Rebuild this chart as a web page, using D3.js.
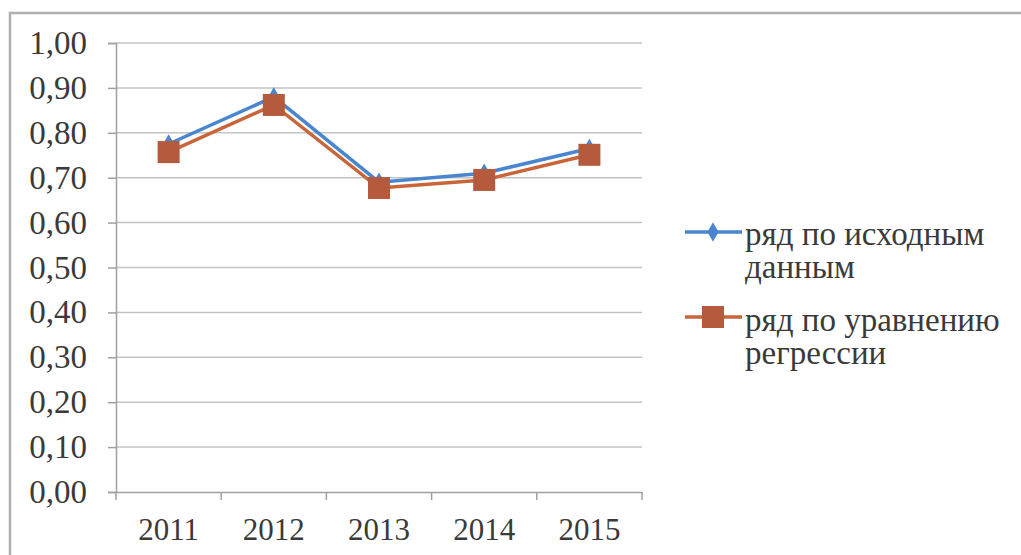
<!DOCTYPE html>
<html><head><meta charset="utf-8">
<script src="https://cdn.jsdelivr.net/npm/d3@7"></script>
<style>body{margin:0;background:#fff} text{font-family:"Liberation Serif","Times New Roman",serif;}</style>
</head><body>
<script>
const categories = ["2011","2012","2013","2014","2015"];
const seriesNames = ["ряд по исходным данным","ряд по уравнению регрессии"];
const original = [0.775, 0.880, 0.690, 0.710, 0.765];
const regression = [0.757, 0.862, 0.677, 0.695, 0.751];
const yTicks = [0,0.1,0.2,0.3,0.4,0.5,0.6,0.7,0.8,0.9,1.0];

(function(){
const W=1021,H=555;
const svg=d3.select("body").append("svg").attr("width",W).attr("height",H);
// frame
svg.append("rect").attr("x",10).attr("y",13).attr("width",1030).attr("height",600)
  .attr("fill","none").attr("stroke","#b0b0b0").attr("stroke-width",2.5);

const pL=116,pR=642,pT=43,pB=492;
const x=d3.scaleBand().domain(categories).range([pL,pR]);
const y=d3.scaleLinear().domain([0,1]).range([pB,pT]);
const font="Liberation Serif";
const txt="#3a3a3a";

// gridlines
svg.append("g").selectAll("line").data(yTicks.slice(1)).join("line")
  .attr("x1",pL).attr("x2",pR).attr("y1",d=>y(d)).attr("y2",d=>y(d))
  .attr("stroke","#c4c4c4").attr("stroke-width",1.5);

// y axis
const ya=svg.append("g").attr("transform",`translate(${pL},0)`)
  .call(d3.axisLeft(y).tickValues(yTicks).tickSize(8).tickPadding(21)
    .tickFormat(d=>d3.format(".2f")(d).replace(".",",")));
ya.attr("font-family",null);
ya.select(".domain").attr("stroke","#a0a0a0").attr("stroke-width",1.5);
ya.selectAll(".tick line").attr("stroke","#a0a0a0").attr("stroke-width",1.5);
ya.selectAll("text").style("font-family",font).attr("font-size",33).attr("fill",txt);

// x axis
const xa=svg.append("g").attr("transform",`translate(0,${pB})`)
  .call(d3.axisBottom(x).tickSize(0).tickPadding(26));
xa.attr("font-family",null);
xa.select(".domain").attr("stroke","#a0a0a0").attr("stroke-width",1.5);
xa.selectAll("text").style("font-family",font).attr("font-size",31).attr("fill",txt).attr("dy","0.71em");
const bounds=categories.map(c=>x(c)).concat([pR]);
svg.append("g").selectAll("line").data(bounds).join("line")
  .attr("x1",d=>d).attr("x2",d=>d).attr("y1",pB).attr("y2",pB+8)
  .attr("stroke","#a0a0a0").attr("stroke-width",1.5);

const cx=c=>x(c)+x.bandwidth()/2;
const line=d3.line().x((d,i)=>cx(categories[i])).y(d=>y(d));
const blue="#4a86cf", red="#b55a3c", redLine="#c8663a";

svg.append("path").datum(original).attr("d",line).attr("fill","none")
  .attr("stroke",blue).attr("stroke-width",3.5);
svg.append("g").selectAll("path").data(original).join("path")
  .attr("d",d3.symbol(d3.symbolDiamond,110)())
  .attr("transform",(d,i)=>`translate(${cx(categories[i])},${y(d)})`)
  .attr("fill",blue);

svg.append("path").datum(regression).attr("d",line).attr("fill","none")
  .attr("stroke",redLine).attr("stroke-width",3.5);
svg.append("g").selectAll("rect").data(regression).join("rect")
  .attr("x",(d,i)=>cx(categories[i])-11).attr("y",d=>y(d)-11)
  .attr("width",22).attr("height",22).attr("fill",red);

// legend
const lg=svg.append("g");
lg.append("line").attr("x1",685).attr("x2",742).attr("y1",232).attr("y2",232).attr("stroke",blue).attr("stroke-width",3.5);
lg.append("path").attr("d",d3.symbol(d3.symbolDiamond,110)()).attr("transform","translate(713,232)").attr("fill",blue);
lg.append("line").attr("x1",685).attr("x2",742).attr("y1",317).attr("y2",317).attr("stroke",redLine).attr("stroke-width",3.5);
lg.append("rect").attr("x",702).attr("y",306).attr("width",22).attr("height",22).attr("fill",red);
const t1=lg.append("text").style("font-family",font).attr("font-size",33).attr("fill",txt);
t1.append("tspan").attr("x",745).attr("y",245).text("ряд по исходным");
t1.append("tspan").attr("x",745).attr("y",278).text("данным");
const t2=lg.append("text").style("font-family",font).attr("font-size",33).attr("fill",txt);
t2.append("tspan").attr("x",745).attr("y",331).text("ряд по уравнению");
t2.append("tspan").attr("x",745).attr("y",364).text("регрессии");
})();
</script>
</body></html>
